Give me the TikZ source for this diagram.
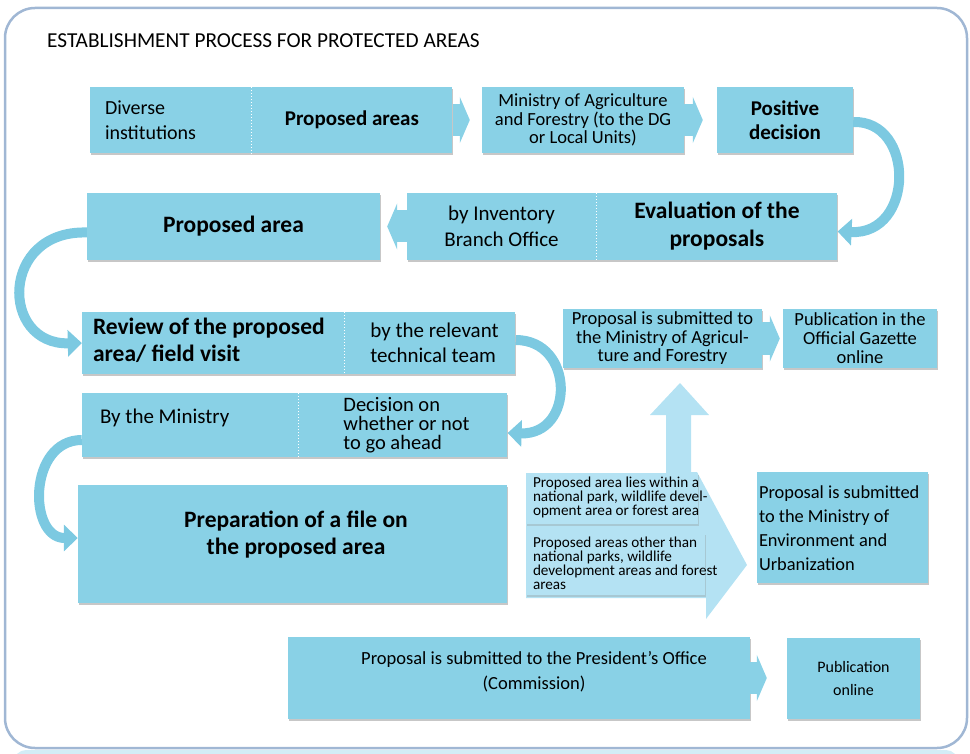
\documentclass[tikz,border=0pt]{standalone}
\usepackage{fontspec}
\setmainfont{Carlito}
\usetikzlibrary{arrows.meta,positioning,shadows}

\definecolor{boxblue}{HTML}{89D1E6}
\definecolor{softblue}{HTML}{B4E2F3}
\definecolor{arcblue}{HTML}{7CC9E1}
\definecolor{framegray}{HTML}{A0B7D4}
\definecolor{bandblue}{HTML}{D3EDF6}

\begin{document}
\begin{tikzpicture}[x=1pt, y=-1pt, inner sep=0pt]
    \tikzstyle{box_style} = [rectangle, fill=boxblue, align=center, drop shadow={shadow xshift=0.8pt, shadow yshift=-2pt, fill=black!55, opacity=0.4}]
    \tikzstyle{soft_style} = [rectangle, fill=softblue, drop shadow={shadow xshift=0.8pt, shadow yshift=-1.6pt, fill=black!45, opacity=0.3}]
    \tikzstyle{lbl_style} = [anchor=west, align=left]
    \tikzstyle{sep_style} = [draw=white, line width=1.4pt, dash pattern=on 1.4pt off 1.6pt]
    \tikzstyle{flow_style} = [draw=boxblue, line width=32pt, -{Triangle[length=10pt, width=46pt]}]
    \tikzstyle{bend_style} = [draw=arcblue, line width=10pt, -{Triangle[length=14pt, width=26pt]}]
    \tikzstyle{bold_big} = [font=\fontsize{23.5}{27}\selectfont\bfseries]
    \tikzstyle{bold_mid} = [font=\fontsize{21}{24}\selectfont\bfseries]
    \tikzstyle{plain_big} = [font=\fontsize{21}{26}\selectfont]
    \tikzstyle{plain_mid} = [font=\fontsize{18.5}{18.5}\selectfont]
    \tikzstyle{plain_small} = [font=\fontsize{15.2}{14}\selectfont]

    \useasboundingbox (0,0) rectangle (970,754);
    \fill[bandblue, rounded corners=12pt] (14,750) rectangle (958,800);
    \draw[framegray, line width=2.5pt, rounded corners=30pt] (5,8) rectangle (967,748);

    \node[lbl_style, font=\fontsize{21.3}{24}\selectfont] (title) at (47,41) {ESTABLISHMENT PROCESS FOR PROTECTED AREAS};

    % first row
    \node[box_style, minimum width=161pt, minimum height=66pt] (inst) at (170.5,120) {};
    \node[box_style, bold_mid, minimum width=201pt, minimum height=66pt, right=0pt of inst] (areas) {Proposed areas};
    \node[lbl_style, font=\fontsize{20}{25}\selectfont] (insttxt) at ([xshift=15pt]inst.west) {Diverse\\institutions};
    \draw[sep_style] (inst.north east) -- (inst.south east);
    \node[box_style, plain_mid, minimum width=202pt, minimum height=66pt] (minagr) at (583,120) {Ministry of Agriculture\\and Forestry (to the DG\\or Local Units)};
    \node[box_style, bold_mid, minimum width=136pt, minimum height=66pt] (pos) at (785,120) {Positive\\decision};

    % second row
    \node[box_style, plain_big, minimum width=189pt, minimum height=67pt] (inv) at (501.5,226.5) {by Inventory\\Branch Office};
    \node[box_style, font=\fontsize{23.5}{28}\selectfont\bfseries, minimum width=241pt, minimum height=67pt, right=0pt of inv] (eval) {Evaluation of the\\proposals};
    \draw[sep_style] (inv.north east) -- (inv.south east);
    \node[box_style, bold_big, minimum width=293pt, minimum height=67pt] (area) at (233.5,226.5) {Proposed area};

    % review and decision
    \node[box_style, minimum width=262pt, minimum height=62pt] (review) at (213,343) {};
    \node[box_style, minimum width=171pt, minimum height=62pt, right=0pt of review] (team) {};
    \node[lbl_style, bold_big] (reviewtxt) at ([xshift=11pt, yshift=3pt]review.west) {Review of the proposed\\area/ field visit};
    \node[lbl_style, font=\fontsize{21}{25}\selectfont] (teamtxt) at ([xshift=26pt]team.west) {by the relevant\\technical team};
    \draw[sep_style] (review.north east) -- (review.south east);

    \node[box_style, minimum width=216pt, minimum height=64pt] (bymin) at (190,425) {};
    \node[box_style, minimum width=209pt, minimum height=64pt, right=0pt of bymin] (decide) {};
    \node[lbl_style, plain_big] (bymintxt) at ([xshift=18pt, yshift=7pt]bymin.west) {By the Ministry};
    \node[lbl_style, font=\fontsize{20.5}{19}\selectfont] (decidetxt) at ([xshift=45pt]decide.west) {Decision on\\whether or not\\to go ahead};
    \draw[sep_style] (bymin.north east) -- (bymin.south east);

    \node[box_style, minimum width=429pt, minimum height=118pt] (prep) at (292.5,544) {};
    \node[bold_big, align=center] (preptxt) at (296,535) {Preparation of a file on\\the proposed area};

    % split arrow
    \fill[softblue] (526,473) -- (666,473) -- (666,415) -- (650,415) -- (680,383) -- (709,415) -- (691,415) -- (691,472) -- (697,472) -- (747,565) -- (706,619) -- (706,598) -- (526,598) -- cycle;
    \node[soft_style, minimum width=172pt, minimum height=51pt] (inside) at (612,498.5) {};
    \node[soft_style, minimum width=179pt, minimum height=62pt] (outside) at (615.5,564) {};
    \node[lbl_style, plain_small] (insidetxt) at ([xshift=7pt, yshift=1pt]inside.west) {Proposed area lies within a\\national park, wildlife devel-\\opment area or forest area};
    \node[lbl_style, plain_small] (outsidetxt) at ([xshift=7pt, yshift=1pt]outside.west) {Proposed areas other than\\national parks, wildlife\\development areas and forest\\areas};

    % right column
    \node[box_style, plain_mid, minimum width=199pt, minimum height=59pt] (submag) at (662.5,338.5) {Proposal is submitted to\\the Ministry of Agricul-\\ture and Forestry};
    \node[box_style, font=\fontsize{18.5}{19}\selectfont, minimum width=154pt, minimum height=59pt] (gazette) at (860,338.5) {Publication in the\\Official Gazette\\online};
    \node[box_style, minimum width=171pt, minimum height=111pt] (subenv) at (842.5,527.5) {};
    \node[lbl_style, font=\fontsize{18.4}{24}\selectfont] (subenvtxt) at ([xshift=2pt, yshift=-1pt]subenv.west) {Proposal is submitted\\to the Ministry of\\Environment and\\Urbanization};

    % bottom row
    \node[box_style, minimum width=462pt, minimum height=82pt] (pres) at (519,678) {};
    \node[font=\fontsize{18.5}{25}\selectfont, align=center] (prestxt) at (534,672) {Proposal is submitted to the President’s Office\\(Commission)};
    \node[box_style, font=\fontsize{16}{23}\selectfont, minimum width=133pt, minimum height=81pt] (online) at (853.5,678) {Publication\\online};

    % straight connectors
    \draw[flow_style, shorten >=12pt] (areas) -- (minagr);
    \draw[flow_style, shorten >=14pt] (minagr) -- (pos);
    \draw[flow_style, shorten >=7pt] (inv) -- (area);
    \draw[flow_style, shorten >=3pt] (submag) -- (gazette);
    \draw[flow_style, shorten >=20pt] (pres) -- (online);

    % curved connectors
    \draw[bend_style] ([yshift=-2pt]pos.east) .. controls (915,120) and (915,235) .. ([yshift=-5pt]eval.east);
    \draw[bend_style] ([yshift=-6pt]area.west) .. controls (0,230) and (0,345) .. (review.west);
    \draw[bend_style] ([yshift=3pt]team.east) .. controls (575,340) and (575,435) .. ([yshift=-8pt]decide.east);
    \draw[bend_style] ([yshift=-15pt]bymin.west) .. controls (28,440) and (28,538) .. ([yshift=6pt]prep.west);
\end{tikzpicture}
\end{document}
